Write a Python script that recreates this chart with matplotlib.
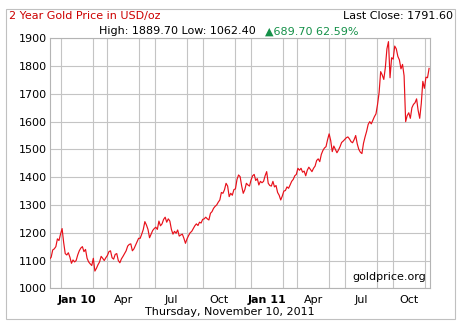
import matplotlib
matplotlib.use("Agg")
import matplotlib.pyplot as plt
import matplotlib.dates as mdates
import matplotlib.patches as patches
import pandas as pd

# gold price every 3 days, from 2009-11-10
prices = [
    1105, 1112, 1138, 1142, 1150, 1178, 1172,                          # Nov 09
    1195, 1215, 1165, 1125, 1120, 1128, 1112, 1090, 1102, 1095, 1100,  # Dec 09
    1120, 1135, 1145, 1150, 1132, 1140, 1108, 1095, 1088, 1082,        # Jan 10
    1108, 1062, 1072, 1085, 1095, 1115, 1108, 1100, 1110,              # Feb
    1118, 1132, 1135, 1110, 1105, 1122, 1125, 1100, 1092, 1106, 1115,  # Mar
    1125, 1135, 1152, 1158, 1160, 1135, 1142, 1155, 1168, 1180,        # Apr
    1180, 1195, 1212, 1240, 1228, 1212, 1182, 1195, 1208, 1215,        # May
    1220, 1212, 1242, 1225, 1232, 1248, 1256, 1238, 1250, 1242,        # Jun
    1212, 1195, 1205, 1198, 1210, 1188, 1192, 1195, 1180, 1162,        # Jul
    1178, 1190, 1200, 1205, 1215, 1225, 1232, 1226, 1238, 1235, 1248,  # Aug
    1250, 1256, 1250, 1246, 1270, 1276, 1288, 1295, 1300, 1310,        # Sep
    1318, 1345, 1342, 1355, 1378, 1368, 1330, 1342, 1335, 1355,        # Oct
    1358, 1392, 1408, 1402, 1368, 1342, 1355, 1378, 1372, 1368,        # Nov
    1390, 1405, 1410, 1388, 1395, 1372, 1385, 1380, 1385, 1405,        # Dec
    1420, 1378, 1370, 1368, 1385, 1365, 1370, 1345, 1335, 1318, 1332,  # Jan 11
    1350, 1352, 1365, 1360, 1372, 1385, 1392, 1405, 1410,              # Feb
    1432, 1425, 1432, 1418, 1422, 1405, 1425, 1436, 1428, 1420,        # Mar
    1432, 1440, 1460, 1466, 1456, 1482, 1496, 1505, 1510, 1535,        # Apr
    1556, 1532, 1492, 1512, 1500, 1488, 1498, 1510, 1525, 1530, 1536,  # May
    1542, 1545, 1538, 1528, 1524, 1535, 1550, 1520, 1500, 1490,        # Jun
    1485, 1522, 1545, 1565, 1590, 1600, 1592, 1605, 1618, 1628,        # Jul
    1662, 1705, 1780, 1768, 1752, 1795, 1862, 1888, 1758, 1830,        # Aug
    1825, 1872, 1862, 1835, 1822, 1790, 1806, 1765, 1600, 1622,        # Sep
    1632, 1612, 1650, 1662, 1668, 1682, 1640, 1612, 1665, 1745, 1720,  # Oct
    1760, 1758, 1791.6,                                                # Nov 11
]
dates = pd.date_range("2009-11-10", periods=len(prices), freq="3D")

tick_dates = ["2010-01-01", "2010-04-01", "2010-07-01", "2010-10-01",
              "2011-01-01", "2011-04-01", "2011-07-01", "2011-10-01"]
tick_labels = ["Jan 10", "Apr", "Jul", "Oct", "Jan 11", "Apr", "Jul", "Oct"]
y_ticks = [1000, 1100, 1200, 1300, 1400, 1500, 1600, 1700, 1800, 1900]

title = "2 Year Gold Price in USD/oz"
last_close = "Last Close: 1791.60"
high_low = "High: 1889.70 Low: 1062.40"
change = "\u25b2689.70 62.59%"
date_text = "Thursday, November 10, 2011"

W, H = 462, 325
fig = plt.figure(figsize=(W / 100, H / 100), dpi=100)
fig.patch.set_facecolor("white")

# outer frame
fig.add_artist(patches.Rectangle((6 / W, 1 - 319 / H), 449 / W, 310 / H,
                                 transform=fig.transFigure, fill=False,
                                 edgecolor="#c0c0c0", linewidth=0.8))

ax = fig.add_axes([49.6 / W, 1 - 288.3 / H, 380 / W, 250 / H])
ax.plot(dates, prices, color="#e8101a", linewidth=0.85, zorder=3)

ax.set_xlim(pd.Timestamp("2009-11-10"), pd.Timestamp("2011-11-10"))
ax.set_ylim(1000, 1900)
ax.set_yticks(y_ticks)
ax.set_yticklabels([str(v) for v in y_ticks])

ax.xaxis.set_minor_locator(mdates.MonthLocator())
ax.set_xticks(pd.to_datetime(tick_dates))
ax.set_xticklabels(tick_labels)
for lbl in ax.get_xticklabels():
    if lbl.get_text().startswith("Jan"):
        lbl.set_fontweight("bold")

ax.grid(True, which="minor", axis="x", color="#c4c4c4", linewidth=0.8)
ax.grid(True, which="major", axis="y", color="#c4c4c4", linewidth=0.8)
ax.set_axisbelow(True)
ax.tick_params(which="both", length=0, labelsize=8, colors="black")
ax.tick_params(axis="y", pad=2)
ax.tick_params(axis="x", pad=5)
for s in ax.spines.values():
    s.set_color("#b4b4b4")
    s.set_linewidth(0.8)

ax.text(0.99, 0.025, "goldprice.org", transform=ax.transAxes, ha="right",
        va="bottom", fontsize=8, color="black")

fig.text(9 / W, 1 - 16 / H, title, ha="left", va="center", fontsize=8,
         color="#cc0000")
fig.text(453 / W, 1 - 16 / H, last_close, ha="right", va="center",
         fontsize=8, color="black")
fig.text(99 / W, 1 - 31.5 / H, high_low, ha="left", va="center",
         fontsize=8, color="black")
fig.text(265 / W, 1 - 31.5 / H, change, ha="left", va="center",
         fontsize=8, color="#149048")
fig.text(230 / W, 1 - 312 / H, date_text, ha="center", va="center",
         fontsize=8, color="black")

fig.savefig("out.png", dpi=100, facecolor="white")
